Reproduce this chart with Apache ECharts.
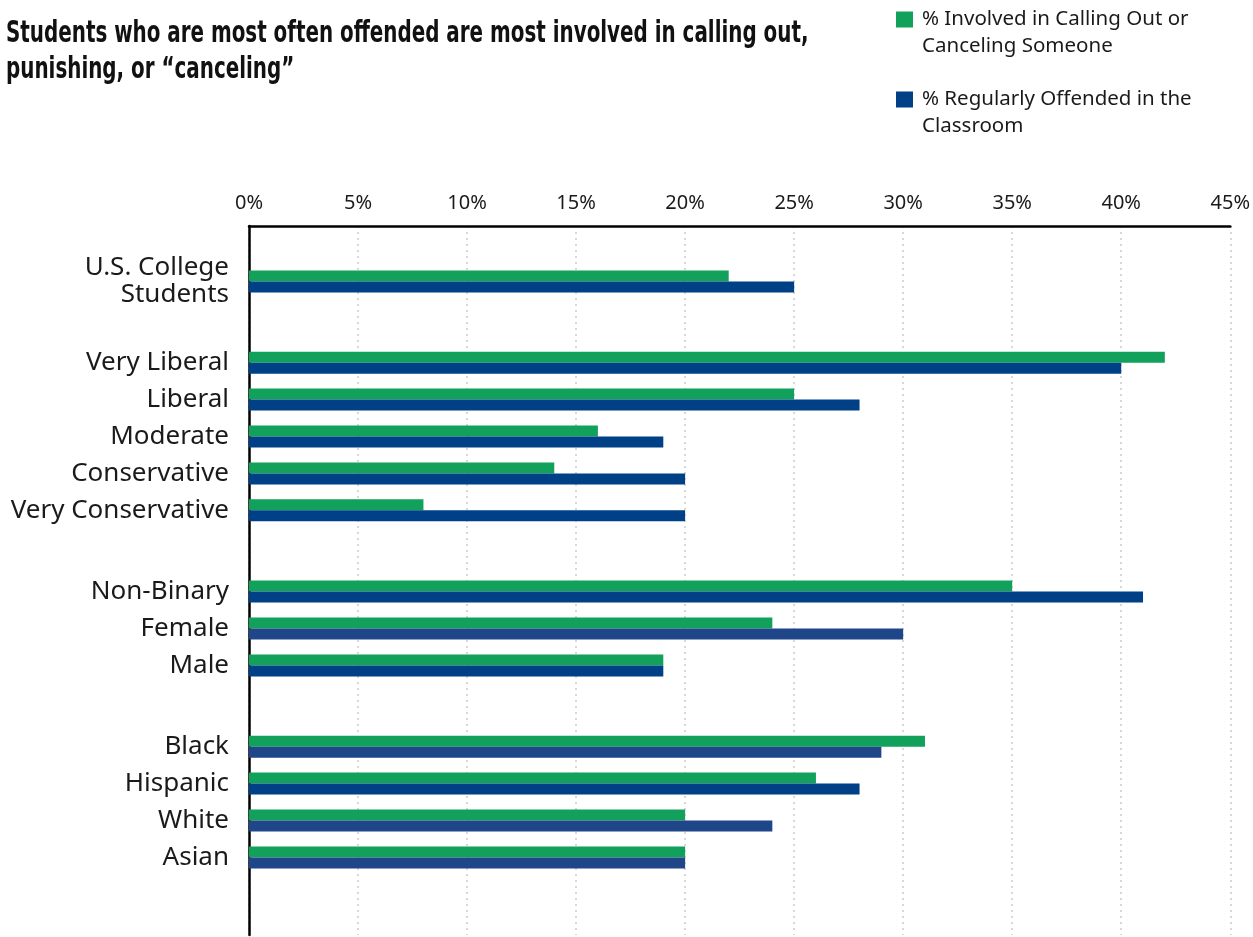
<!DOCTYPE html>
<html>
<head>
<meta charset="utf-8">
<script src="https://cdn.jsdelivr.net/npm/echarts@6/dist/echarts.min.js"></script>
<style>
  html, body { margin: 0; padding: 0; background: #fff; }
  #chart { width: 1253px; height: 937px; }
</style>
</head>
<body>
<div id="chart"></div>
<script>
// Row labels, grouped: overall, political identity, gender, race
const overallRows = ['U.S. College\nStudents'];
const politicsRows = ['Very Liberal', 'Liberal', 'Moderate', 'Conservative', 'Very Conservative'];
const genderRows = ['Non-Binary', 'Female', 'Male'];
const raceRows = ['Black', 'Hispanic', 'White', 'Asian'];

// Percent values, in the same order as the rows above
const callingOut = [22, 42, 25, 16, 14, 8, 35, 24, 19, 31, 26, 20, 20];
const offended = [25, 40, 28, 19, 20, 20, 41, 30, 19, 29, 28, 24, 20];

// Value axis tick labels (percent)
const tickValues = [0, 5, 10, 15, 20, 25, 30, 35, 40, 45];

const seriesNames = ['% Involved in Calling Out or Canceling Someone', '% Regularly Offended in the Classroom'];
const legendLines = {
  '% Involved in Calling Out or Canceling Someone': '% Involved in Calling Out or\nCanceling Someone',
  '% Regularly Offended in the Classroom': '% Regularly Offended in the\nClassroom'
};

// Rows drawn with the softer navy tone
const softBlueRows = ['Female', 'Black', 'White', 'Asian'];

// Slot layout on the category axis: each row takes a few thin slots,
// groups are separated by a wider gap.
const LEAD_SLOTS = 7, ROW_SLOTS = 5, GROUP_SLOTS = 11, TOTAL_SLOTS = 96;
const groups = [overallRows, politicsRows, genderRows, raceRows];

const slotLabels = new Array(TOTAL_SLOTS).fill('');
const greenData = new Array(TOTAL_SLOTS).fill('-');
const blueData = new Array(TOTAL_SLOTS).fill('-');
let slot = LEAD_SLOTS, row = 0;
groups.forEach(function (g, gi) {
  if (gi > 0) slot += GROUP_SLOTS - ROW_SLOTS;
  g.forEach(function (name) {
    slotLabels[slot] = name;
    greenData[slot] = callingOut[row];
    blueData[slot] = {
      value: offended[row],
      itemStyle: softBlueRows.indexOf(name) >= 0 ? { color: '#1E4689' } : undefined
    };
    row++;
    slot += ROW_SLOTS;
  });
});

// Legend swatch: a square in the top-left corner of a taller, wider box, so it
// lines up with the first line of a two-line legend entry.
const swatchIcon = 'path://M0,0H17V16H0Z M20.99,42.99H21V43H20.99Z';

const chart = echarts.init(document.getElementById('chart'), null, { renderer: 'canvas' });
chart.setOption({
  animation: false,
  backgroundColor: '#ffffff',
  graphic: [{
    type: 'text',
    left: 6,
    top: 16,
    scaleX: 0.737,
    style: {
      text: 'Students who are most often offended are most involved in calling out,\npunishing, or “canceling”',
      font: 'bold 30px "Liberation Sans Narrow", "DejaVu Sans Condensed", sans-serif',
      lineHeight: 36,
      fill: '#111111'
    }
  }],
  legend: {
    orient: 'vertical',
    left: 896,
    top: 6,
    padding: 0,
    itemGap: 26,
    itemWidth: 21,
    itemHeight: 43,
    icon: swatchIcon,
    data: seriesNames,
    formatter: function (n) { return legendLines[n]; },
    textStyle: {
      fontFamily: 'Noto Sans',
      fontSize: 20.5,
      lineHeight: 27,
      color: '#1a1a1a'
    }
  },
  grid: { left: 249, right: 21, top: 226, bottom: 2, containLabel: false },
  xAxis: {
    type: 'value',
    position: 'top',
    min: 0,
    max: 45,
    interval: 5,
    axisLine: { show: true, lineStyle: { color: '#000', width: 2.5 } },
    axisTick: { show: false },
    axisLabel: {
      margin: 13,
      fontFamily: 'Noto Sans',
      fontSize: 20,
      color: '#1a1a1a',
      formatter: function (v) { return tickValues.indexOf(v) >= 0 ? v + '%' : ''; }
    },
    splitLine: { show: true, lineStyle: { color: '#cccccc', type: [2, 4], width: 1.5 } }
  },
  yAxis: {
    type: 'category',
    inverse: true,
    data: slotLabels,
    axisLine: { show: true, lineStyle: { color: '#000', width: 2.5 } },
    axisTick: { show: false },
    splitLine: { show: false },
    axisLabel: {
      interval: 0,
      margin: 20,
      fontFamily: 'Noto Sans',
      fontSize: 26,
      lineHeight: 27,
      color: '#1a1a1a',
      align: 'right'
    }
  },
  series: [
    {
      name: seriesNames[0],
      type: 'bar',
      data: greenData,
      barWidth: 11,
      barGap: '0%',
      itemStyle: { color: '#12A15B' }
    },
    {
      name: seriesNames[1],
      type: 'bar',
      data: blueData,
      barWidth: 11,
      barGap: '0%',
      itemStyle: { color: '#004086' }
    }
  ]
});
</script>
</body>
</html>
